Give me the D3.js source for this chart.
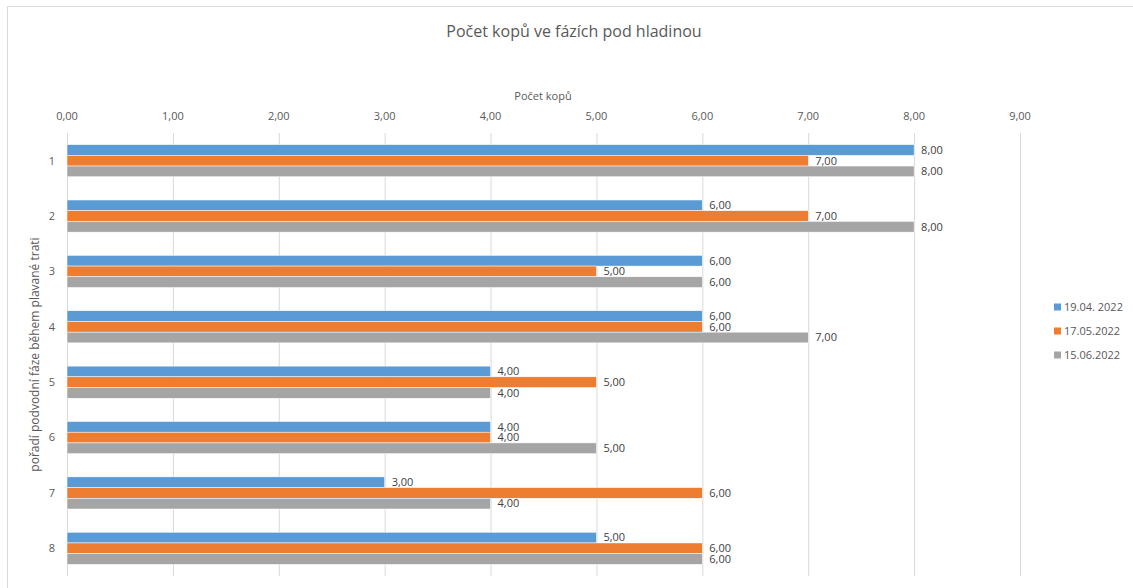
<!DOCTYPE html>
<html>
<head>
<meta charset="utf-8">
<script src="https://cdn.jsdelivr.net/npm/d3@7"></script>
<style>
  body { margin: 0; background: #fff; }
  text { font-family: "Open Sans", "Noto Sans", sans-serif; fill: #595959; }
</style>
</head>
<body>
<div id="chart"></div>
<script>
var categories = ["1", "2", "3", "4", "5", "6", "7", "8"];
var seriesNames = ["19.04. 2022", "17.05.2022", "15.06.2022"];
var seriesColors = ["#5b9bd5", "#ed7d31", "#a5a5a5"];
var blueValues = [8, 6, 6, 6, 4, 4, 3, 5];
var orangeValues = [7, 7, 5, 6, 5, 4, 6, 6];
var grayValues = [8, 8, 6, 7, 4, 5, 4, 6];
var xTicks = [0, 1, 2, 3, 4, 5, 6, 7, 8, 9];

var series = [blueValues, orangeValues, grayValues];

var width = 1133, height = 588;
var margin = {top: 133, right: 113, bottom: 12, left: 67};
var plotW = width - margin.left - margin.right;
var plotH = height - margin.top - margin.bottom;

var svg = d3.select("#chart").append("svg")
  .attr("width", width)
  .attr("height", height);

// chart frame
svg.append("rect")
  .attr("x", 7.5).attr("y", 6.5)
  .attr("width", 1140).attr("height", 600)
  .attr("fill", "none")
  .attr("stroke", "#d9d9d9");

var x = d3.scaleLinear().domain([0, 9]).range([0, 953]);
var y = d3.scaleBand().domain(categories).range([0, plotH]).paddingInner(0.42).paddingOuter(0.21);
var y1 = d3.scaleBand().domain(d3.range(series.length)).range([0, y.bandwidth()]);

var g = svg.append("g").attr("transform", "translate(" + margin.left + "," + margin.top + ")");

// gridlines
g.append("g").selectAll("line")
  .data(xTicks)
  .enter().append("line")
  .attr("x1", d => x(d) + 0.5).attr("x2", d => x(d) + 0.5)
  .attr("y1", 0).attr("y2", plotH)
  .attr("stroke", "#d9d9d9")
  .attr("stroke-width", 1);

// top axis labels
var fmt = v => d3.format(".2f")(v).replace(".", ",");
g.append("g").selectAll("text")
  .data(xTicks)
  .enter().append("text")
  .attr("x", d => x(d))
  .attr("y", -13)
  .attr("text-anchor", "middle")
  .style("font-size", "11px")
  .text(d => fmt(d));

// category labels
g.append("g").selectAll("text")
  .data(categories)
  .enter().append("text")
  .attr("x", -12)
  .attr("y", d => y(d) + y.bandwidth() / 2)
  .attr("dy", "0.35em")
  .attr("text-anchor", "end")
  .style("font-size", "11px")
  .text(d => d);

// bars
series.forEach(function (vals, si) {
  var sg = g.append("g");
  sg.selectAll("rect")
    .data(vals)
    .enter().append("rect")
    .attr("x", 0)
    .attr("y", (d, i) => y(categories[i]) + y1(si))
    .attr("width", d => x(d))
    .attr("height", y1.bandwidth())
    .attr("fill", seriesColors[si])
    .attr("stroke", "#fff")
    .attr("stroke-width", 0.5);
  sg.selectAll("text")
    .data(vals)
    .enter().append("text")
    .attr("x", d => x(d) + 7)
    .attr("y", (d, i) => y(categories[i]) + y1(si) + y1.bandwidth() / 2)
    .attr("dy", "0.35em")
    .style("font-size", "11px")
    .style("fill", "#404040")
    .text(d => fmt(d));
});

// title
svg.append("text")
  .attr("x", 574).attr("y", 37)
  .attr("text-anchor", "middle")
  .style("font-size", "16px")
  .text("Počet kopů ve fázích pod hladinou");

// x axis title
svg.append("text")
  .attr("x", 543).attr("y", 100)
  .attr("text-anchor", "middle")
  .style("font-size", "11px")
  .text("Počet kopů");

// y axis title
svg.append("text")
  .attr("transform", "translate(39," + (margin.top + plotH / 2) + ") rotate(-90)")
  .attr("text-anchor", "middle")
  .style("font-size", "12px")
  .text("pořadí podvodní fáze během plavané trati");

// legend
var leg = svg.append("g").attr("transform", "translate(1054,307)");
seriesNames.forEach(function (name, i) {
  var row = leg.append("g").attr("transform", "translate(0," + (i * 24) + ")");
  row.append("rect")
    .attr("x", 0).attr("y", -3.5)
    .attr("width", 7).attr("height", 7)
    .attr("fill", seriesColors[i]);
  row.append("text")
    .attr("x", 10).attr("y", 0)
    .attr("dy", "0.35em")
    .style("font-size", "11px")
    .text(name);
});
</script>
</body>
</html>
